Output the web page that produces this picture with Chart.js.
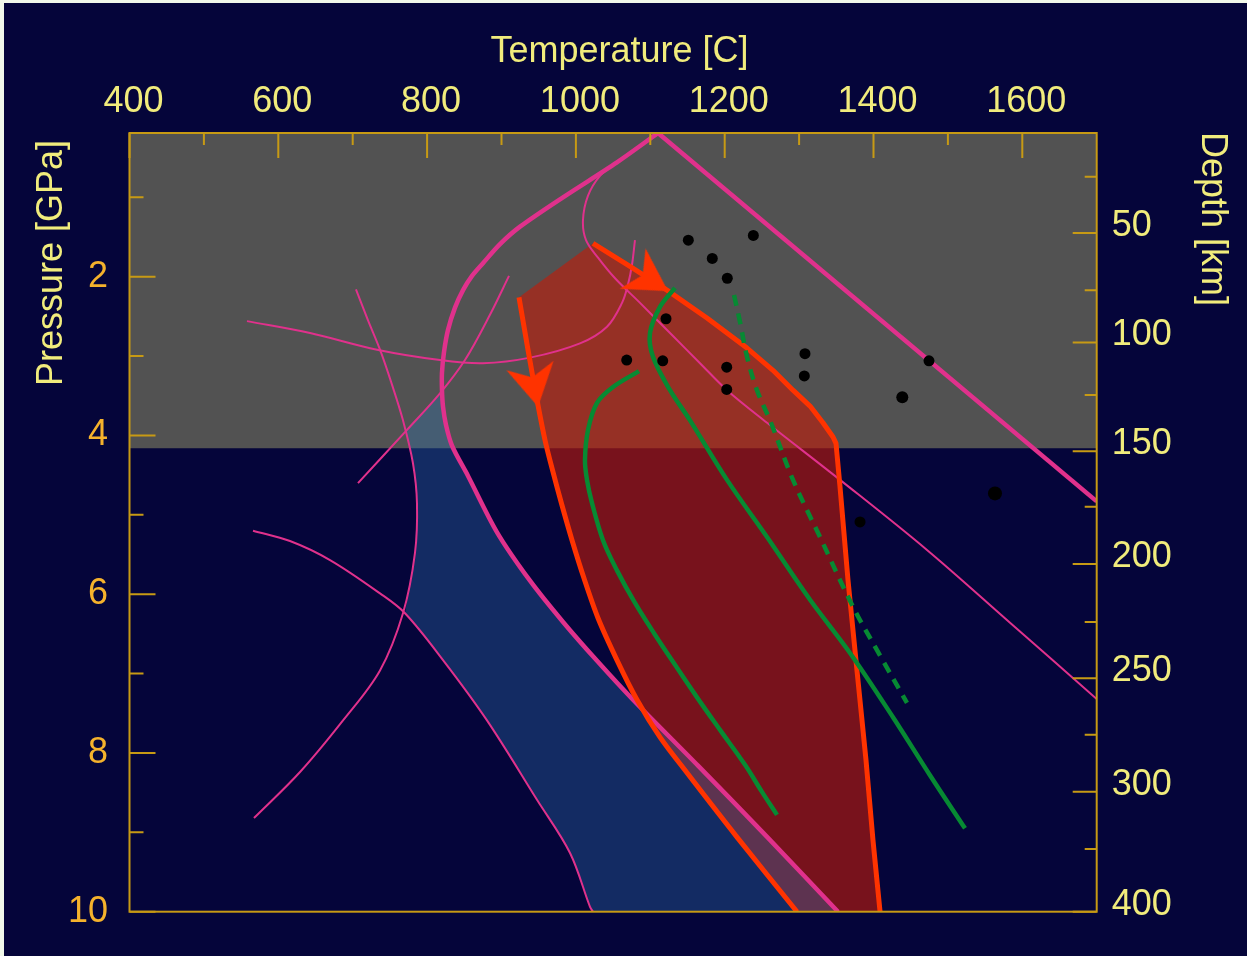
<!DOCTYPE html>
<html>
<head>
<meta charset="utf-8">
<script src="https://cdn.jsdelivr.net/npm/chart.js@4.4.1/dist/chart.umd.min.js"></script>
<style>
  html, body { margin: 0; padding: 0; background: #f2f9ea; }
  #wrap { position: absolute; left: 4px; top: 3px; width: 1243px; height: 953px; background: #05053a; }
</style>
</head>
<body>
<div id="wrap"><canvas id="c"></canvas></div>
<script>
// ---------- axis ticks ----------
const tempTicks = [400, 600, 800, 1000, 1200, 1400, 1600];
const tempMinorTicks = [500, 700, 900, 1100, 1300, 1500];
const pressureTicks = [2, 4, 6, 8, 10];
const pressureMinorTicks = [1, 3, 5, 7, 9];
const depthLabels = ['50', '100', '150', '200', '250', '300', '400'];
const depthTickPressure = [1.45, 2.83, 4.20, 5.62, 7.06, 8.49, 10.0];
const depthMinorPressure = [0.74, 2.17, 3.49, 4.90, 6.35, 7.77, 9.21];

// ---------- shaded band (top of the section down to this pressure) ----------
const bandBaseP = 4.16;

// ---------- curves: temperature [C] and pressure [GPa] ----------
const solidusLeftT = [1352.3, 1258.2, 1164.1, 1076.7, 1028.4, 982.7, 938.3, 894.0, 855.0, 833.5, 825.4, 821.4, 820.0, 820.0, 822.7, 828.1, 837.5, 848.3, 860.4, 875.1, 898.0, 924.9, 982.7, 1055.2, 1110.4];
const solidusLeftP = [10.0, 9.07, 8.16, 7.33, 6.84, 6.35, 5.83, 5.22, 4.51, 4.13, 3.87, 3.64, 3.43, 3.21, 2.95, 2.67, 2.39, 2.17, 1.99, 1.83, 1.59, 1.37, 1.00, 0.56, 0.19];
const solidusRightT = [1110.4, 1700];
const solidusRightP = [0.19, 4.83];

const curveST = [1055.2, 1032.4, 1016.3, 1009.5, 1013.6, 1029.7, 1052.6, 1086.2, 1126.5, 1166.8, 1203.1, 1256.9, 1355.0, 1471.5, 1583.5, 1700];
const curveSP = [0.56, 0.73, 0.98, 1.29, 1.54, 1.76, 2.02, 2.33, 2.71, 3.09, 3.43, 3.84, 4.56, 5.44, 6.36, 7.32];

const curveUT = [557.9, 642.6, 732.7, 817.3, 875.1, 938.3, 1005.5, 1041.8, 1062.0, 1070.0, 1075.4, 1079.4];
const curveUP = [2.56, 2.71, 2.92, 3.05, 3.09, 3.02, 2.84, 2.63, 2.33, 2.10, 1.85, 1.54];

const curveRiseT = [707.1, 773.0, 817.3, 850.9, 884.5, 910.1];
const curveRiseP = [4.60, 3.93, 3.47, 3.05, 2.48, 1.99];

const curveBowT = [704.4, 720.6, 736.7, 752.8, 767.6, 781.0, 786.4, 783.7, 767.6, 736.7, 687.0, 629.2, 567.3];
const curveBowP = [2.16, 2.55, 2.92, 3.36, 3.81, 4.35, 4.85, 5.48, 6.24, 6.96, 7.59, 8.24, 8.82];

const curveArcT = [566.0, 615.7, 669.5, 736.7, 770.3, 821.4, 880.5, 947.7, 992.1, 1019.0, 1023.0];
const curveArcP = [5.20, 5.33, 5.57, 5.99, 6.24, 6.83, 7.59, 8.59, 9.26, 9.94, 10.0];

// blue stability field
const blueFieldT = [817.3, 771.6, 781.0, 786.4, 783.7, 770.3, 821.4, 880.5, 947.7, 992.1, 1019.0, 1023.0, 1352.3, 1258.2, 1164.1, 1076.7, 1028.4, 982.7, 938.3, 894.0, 855.0, 833.5, 825.4, 821.4, 820.0];
const blueFieldP = [3.49, 3.94, 4.35, 4.85, 5.48, 6.24, 6.83, 7.59, 8.59, 9.26, 9.94, 10.0, 10.0, 9.07, 8.16, 7.33, 6.84, 6.35, 5.83, 5.22, 4.51, 4.13, 3.87, 3.64, 3.50];

// red field: upper/right edge and left edge
const redRightT = [1023.0, 1072.7, 1122.4, 1176.2, 1230.0, 1264.9, 1291.8, 1314.7, 1332.1, 1345.6, 1349.6, 1355.0, 1365.7, 1377.8, 1389.9, 1399.3, 1408.8];
const redRightP = [1.58, 1.87, 2.17, 2.52, 2.90, 3.18, 3.43, 3.63, 3.84, 4.02, 4.10, 4.65, 5.82, 6.96, 8.09, 9.10, 10.0];
const redLeftT = [923.5, 935.6, 947.7, 958.5, 969.2, 981.3, 994.8, 1010.9, 1029.7, 1055.2, 1082.1, 1113.0, 1149.3, 1216.5, 1297.2];
const redLeftP = [2.26, 2.92, 3.55, 4.06, 4.46, 4.88, 5.32, 5.80, 6.30, 6.83, 7.33, 7.80, 8.25, 9.06, 10.0];

// direction markers on the red edges
const arrowT = [943.7, 1100.0];
const arrowP = [3.38, 2.04];

// green paths
const greenAT = [1084.8, 1049.9, 1028.4, 1016.3, 1012.2, 1014.9, 1021.6, 1036.4, 1055.2, 1079.4, 1106.3, 1133.2, 1162.8, 1193.7, 1227.3, 1250.1, 1270.3];
const greenAP = [3.19, 3.39, 3.59, 3.93, 4.31, 4.56, 4.85, 5.32, 5.70, 6.11, 6.51, 6.89, 7.30, 7.71, 8.15, 8.49, 8.78];
const greenBT = [1133.2, 1113.0, 1099.6, 1103.6, 1126.5, 1153.4, 1203.1, 1256.9, 1314.7, 1368.4, 1426.2, 1475.9, 1523.0];
const greenBP = [2.14, 2.38, 2.71, 3.01, 3.43, 3.81, 4.56, 5.28, 6.07, 6.74, 7.55, 8.28, 8.95];
const greenDashT = [1212.5, 1220.6, 1230.0, 1243.4, 1262.2, 1291.8, 1328.1, 1372.5, 1408.7, 1445.0];
const greenDashP = [2.23, 2.57, 3.01, 3.43, 3.84, 4.56, 5.28, 6.16, 6.77, 7.37];

// sample points
const sampleT = [1151.1, 1238.5, 1183.3, 1203.5, 1121.1, 1068.3, 1116.7, 1202.7, 1202.7, 1307.9, 1307.0, 1474.6, 1438.7, 1381.9, 1563.3];
const sampleP = [1.54, 1.48, 1.77, 2.02, 2.53, 3.05, 3.06, 3.14, 3.42, 2.97, 3.25, 3.06, 3.52, 5.09, 4.73];

// ---------- styling ----------
const FONT = "'Liberation Sans', Arial, sans-serif";
const AXIS_COLOR = '#c79a14';
const PALE = '#f1ec7c';
const ORANGE_TXT = '#f5b22c';
const MAGENTA = '#e0318c';
const RED = '#ff3300';
const GREEN = '#078a33';

const pts = (xs, ys) => xs.map((x, i) => ({ x, y: ys[i] }));

function makeArrowHead(color) {
  const c = document.createElement('canvas');
  c.width = 52; c.height = 52;
  const g = c.getContext('2d');
  g.fillStyle = color;
  g.beginPath();
  g.moveTo(47, 26);
  g.lineTo(5, 2);
  g.lineTo(17, 26);
  g.lineTo(5, 50);
  g.closePath();
  g.fill();
  return c;
}
const arrowHead = makeArrowHead(RED);

const lineDS = (data, color, width, order, extra) => Object.assign({
  data, borderColor: color, borderWidth: width, backgroundColor: 'transparent',
  fill: false, pointRadius: 0, tension: 0.35, order,
  borderCapStyle: 'butt', borderJoinStyle: 'round'
}, extra || {});

const datasets = [
  // shaded band
  { data: pts([400, 1700], [bandBaseP, bandBaseP]), fill: 'end', backgroundColor: '#525252',
    borderWidth: 0, borderColor: 'transparent', pointRadius: 0, tension: 0, order: 100 },
  // red field
  { data: pts(redRightT.concat(redLeftT.slice().reverse()), redRightP.concat(redLeftP.slice().reverse())),
    fill: 'shape', backgroundColor: 'rgba(196,26,8,0.6)', borderWidth: 0, borderColor: 'transparent',
    pointRadius: 0, tension: 0, order: 90 },
  // blue field
  { data: pts(blueFieldT, blueFieldP), fill: 'shape', backgroundColor: 'rgba(46,116,178,0.35)',
    borderWidth: 0, borderColor: 'transparent', pointRadius: 0, tension: 0, order: 85 },
  // thin magenta curves
  lineDS(pts(curveST, curveSP), MAGENTA, 2, 70),
  lineDS(pts(curveUT, curveUP), MAGENTA, 2, 70),
  lineDS(pts(curveRiseT, curveRiseP), MAGENTA, 2, 70),
  lineDS(pts(curveBowT, curveBowP), MAGENTA, 2, 70),
  lineDS(pts(curveArcT, curveArcP), MAGENTA, 2, 70),
  // thick magenta
  lineDS(pts(solidusLeftT, solidusLeftP), MAGENTA, 4.5, 60, { tension: 0.3 }),
  lineDS(pts(solidusRightT, solidusRightP), MAGENTA, 4.5, 60, { tension: 0 }),
  // red edges
  lineDS(pts(redLeftT, redLeftP), RED, 5, 50, { tension: 0.3 }),
  lineDS(pts(redRightT, redRightP), RED, 5, 50, { tension: 0 }),
  // green paths
  lineDS(pts(greenAT, greenAP), GREEN, 4.5, 40),
  lineDS(pts(greenBT, greenBP), GREEN, 4.5, 40),
  lineDS(pts(greenDashT, greenDashP), GREEN, 4.5, 40, { borderDash: [11, 8] }),
  // arrow heads
  { data: pts(arrowT, arrowP), showLine: false, pointStyle: arrowHead, pointRadius: 12,
    rotation: [78.9, 32.6], order: 20 },
  // samples
  { data: pts(sampleT, sampleP), showLine: false, pointStyle: 'circle',
    pointRadius: [5.5, 5.5, 5.5, 5.5, 5.5, 5.5, 5.5, 5.5, 5.5, 5.5, 5.5, 5.5, 6, 5.5, 7], pointBorderWidth: 0,
    backgroundColor: '#000000', borderColor: '#000000', order: 10 }
];

// inward tick marks and plot frame
const frameAndTicks = {
  id: 'frameAndTicks',
  afterDatasetsDraw(chart) {
    const { ctx, chartArea: a, scales } = chart;
    const xs = scales.x, ys = scales.y, yd = scales.yDepth;
    ctx.save();
    ctx.strokeStyle = AXIS_COLOR;
    ctx.lineWidth = 2;
    ctx.beginPath();
    const seg = (x1, y1, x2, y2) => { ctx.moveTo(x1, y1); ctx.lineTo(x2, y2); };
    tempTicks.forEach(v => { const p = xs.getPixelForValue(v); seg(p, a.top, p, a.top + 25); });
    tempMinorTicks.forEach(v => { const p = xs.getPixelForValue(v); seg(p, a.top, p, a.top + 12); });
    pressureTicks.forEach(v => { const p = ys.getPixelForValue(v); seg(a.left, p, a.left + 26, p); });
    pressureMinorTicks.forEach(v => { const p = ys.getPixelForValue(v); seg(a.left, p, a.left + 14, p); });
    depthTickPressure.forEach(v => { const p = yd.getPixelForValue(v); seg(a.right, p, a.right - 24, p); });
    depthMinorPressure.forEach(v => { const p = yd.getPixelForValue(v); seg(a.right, p, a.right - 12, p); });
    ctx.stroke();
    ctx.strokeRect(a.left, a.top, a.right - a.left, a.bottom - a.top);
    ctx.restore();
  }
};

// axis titles
const axisTitles = {
  id: 'axisTitles',
  afterDraw(chart) {
    const { ctx, chartArea: a } = chart;
    ctx.save();
    ctx.fillStyle = PALE;
    ctx.font = '36px ' + FONT;
    ctx.textAlign = 'center';
    ctx.textBaseline = 'alphabetic';
    ctx.fillText('Temperature [C]', a.left + 490, a.top - 71);

    ctx.save();
    ctx.translate(a.left - 67.5, a.top + 130);
    ctx.rotate(-Math.PI / 2);
    ctx.fillText('Pressure [GPa]', 0, 0);
    ctx.restore();

    ctx.save();
    ctx.translate(a.right + 105.5, a.top + 86);
    ctx.rotate(Math.PI / 2);
    ctx.fillText('Depth [km]', 0, 0);
    ctx.restore();
    ctx.restore();
  }
};

const tickFont = { family: FONT, size: 36, lineHeight: 1 };

new Chart(document.getElementById('c'), {
  type: 'line',
  data: { datasets },
  plugins: [frameAndTicks, axisTitles],
  options: {
    responsive: true,
    maintainAspectRatio: false,
    animation: false,
    events: [],
    layout: { padding: { top: 0, left: 0, right: 0, bottom: 44.3 } },
    plugins: { legend: { display: false }, tooltip: { enabled: false } },
    elements: { point: { radius: 0 } },
    scales: {
      x: {
        type: 'linear', position: 'top', min: 400, max: 1700,
        grid: { display: false, drawTicks: false }, border: { display: false },
        afterBuildTicks: s => { s.ticks = tempTicks.map(v => ({ value: v })); },
        afterFit: s => { s.height = 130; },
        ticks: { autoSkip: false, maxRotation: 0, padding: 13, labelOffset: 4, color: PALE, font: tickFont,
                 callback: v => String(v) }
      },
      y: {
        type: 'linear', position: 'left', reverse: true, min: 0.19, max: 10,
        grid: { display: false, drawTicks: false }, border: { display: false },
        afterBuildTicks: s => { s.ticks = pressureTicks.map(v => ({ value: v })); },
        afterFit: s => { s.width = 125.5; },
        ticks: { autoSkip: false, padding: 21.5, color: ORANGE_TXT, font: tickFont,
                 callback: v => String(v) }
      },
      yDepth: {
        type: 'linear', position: 'right', reverse: true, min: 0.19, max: 10,
        grid: { display: false, drawTicks: false }, border: { display: false },
        afterBuildTicks: s => { s.ticks = depthTickPressure.map(v => ({ value: v })); },
        afterFit: s => { s.width = 150.3; },
        ticks: { autoSkip: false, padding: 15, labelOffset: -7, color: PALE, font: tickFont,
                 callback: (v, i) => depthLabels[i] }
      }
    }
  }
});
</script>
</body>
</html>
